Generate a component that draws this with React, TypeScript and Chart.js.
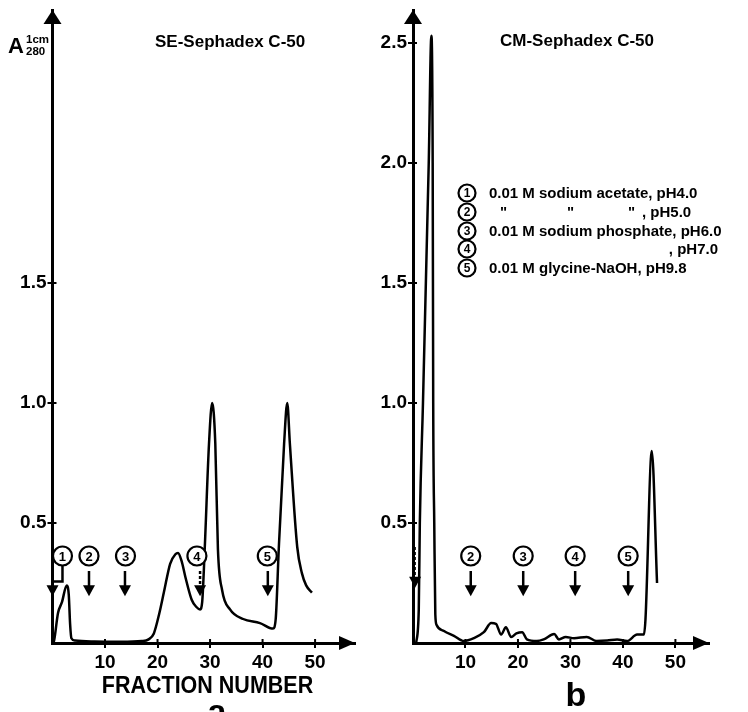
import React, { useEffect, useRef } from "react";
import { Chart, registerables } from "chart.js";

Chart.register(...registerables);

const FONT = "'Liberation Sans', Arial, sans-serif";

// ---------- data ----------
const xTicks = [10, 20, 30, 40, 50];
const yTicksA = [0.5, 1.0, 1.5];
const yTicksB = [0.5, 1.0, 1.5, 2.0, 2.5];

const fractionA = [0, 0.3, 1.05, 1.8, 2.7, 3.1, 3.35, 3.6, 4.3, 8, 13, 17, 18.3, 19.3, 20.3, 21.2, 22.4, 23.4, 23.9, 24.6, 25.3, 26.5, 27.4, 28.1, 28.5, 29.0, 29.8, 30.4, 31.0, 31.5, 32.3, 33.8, 36.3, 39.5, 42.0, 42.5, 43.1, 44.1, 44.7, 45.2, 46.6, 47.5, 48.3, 49.4];
const absorbanceA = [0, 0.01, 0.125, 0.17, 0.24, 0.2, 0.08, 0.02, 0.01, 0.006, 0.005, 0.008, 0.015, 0.04, 0.12, 0.21, 0.33, 0.37, 0.375, 0.34, 0.275, 0.18, 0.15, 0.14, 0.17, 0.4, 0.83, 1.0, 0.83, 0.39, 0.22, 0.14, 0.1, 0.083, 0.06, 0.1, 0.4, 0.83, 1.0, 0.83, 0.4, 0.29, 0.24, 0.21];

const fractionB = [0.6, 1.1, 1.3, 1.9, 3.0, 3.5, 3.75, 3.85, 4.05, 4.25, 4.5, 5.9, 7.8, 9.7, 11.6, 13.5, 14.9, 15.8, 16.8, 17.7, 18.7, 19.7, 20.8, 21.7, 23.6, 24.9, 26.9, 27.8, 29.1, 30.7, 33.1, 35.0, 37.0, 38.9, 40.8, 42.7, 44.0, 44.3, 45.5, 46.5];
const absorbanceB = [0, 0.14, 0.5, 1.0, 2.0, 2.53, 2.0, 1.0, 0.5, 0.12, 0.075, 0.05, 0.03, 0.008, 0.02, 0.045, 0.083, 0.08, 0.035, 0.066, 0.025, 0.04, 0.045, 0.015, 0.008, 0.015, 0.037, 0.015, 0.025, 0.02, 0.025, 0.008, 0.01, 0.015, 0.008, 0.035, 0.035, 0.1, 0.8, 0.25];

// buffer-change markers
const stepLabelsA = ["1", "2", "3", "4", "5"];
const circleFractionA = [1.9, 6.95, 13.9, 27.5, 40.9];
const arrowFractionA = [0, 6.95, 13.8, 28.1, 41.0];
const stepLabelsB = ["2", "3", "4", "5"];
const circleFractionB = [11.0, 21.0, 30.9, 41.0];
const arrowFractionB = [11.0, 21.0, 30.9, 41.0];
const circleLevel = 0.3625;
const arrowTopLevel = 0.3;
const arrowTipLevel = 0.195;

const legendNumbers = ["1", "2", "3", "4", "5"];
const legendTexts = [
  "0.01 M sodium acetate, pH4.0",
  ", pH5.0",
  "0.01 M sodium phosphate, pH6.0",
  ", pH7.0",
  "0.01 M glycine-NaOH, pH9.8",
];

// ---------- drawing helpers ----------
function circled(ctx: CanvasRenderingContext2D, x: number, y: number, label: string, r: number, size: number) {
  ctx.save();
  ctx.fillStyle = "#fff";
  ctx.strokeStyle = "#000";
  ctx.lineWidth = 2.2;
  ctx.beginPath();
  ctx.arc(x, y, r, 0, Math.PI * 2);
  ctx.fill();
  ctx.stroke();
  ctx.fillStyle = "#000";
  ctx.font = `bold ${size}px ${FONT}`;
  ctx.textAlign = "center";
  ctx.textBaseline = "middle";
  ctx.fillText(label, x, y + 1);
  ctx.restore();
}

function arrowDown(ctx: CanvasRenderingContext2D, x: number, yTop: number, yTip: number, dashed = false, lw = 2.5) {
  ctx.save();
  ctx.strokeStyle = "#000";
  ctx.fillStyle = "#000";
  ctx.lineWidth = lw;
  if (dashed) ctx.setLineDash([3, 2]);
  ctx.beginPath();
  ctx.moveTo(x, yTop);
  ctx.lineTo(x, yTip - 8);
  ctx.stroke();
  ctx.setLineDash([]);
  ctx.beginPath();
  ctx.moveTo(x - 6, yTip - 11);
  ctx.lineTo(x + 6, yTip - 11);
  ctx.lineTo(x, yTip);
  ctx.closePath();
  ctx.fill();
  ctx.restore();
}

function text(ctx: CanvasRenderingContext2D, s: string, x: number, y: number, size: number, align: CanvasTextAlign = "left", base: CanvasTextBaseline = "alphabetic", sy = 1) {
  ctx.save();
  ctx.fillStyle = "#000";
  ctx.font = `bold ${size}px ${FONT}`;
  ctx.textAlign = align;
  ctx.textBaseline = base;
  ctx.translate(x, y);
  ctx.scale(1, sy);
  ctx.fillText(s, 0, 0);
  ctx.restore();
}

function overlay(panel: "a" | "b") {
  return {
    id: "overlay_" + panel,
    afterDraw(chart: any) {
      const ctx: CanvasRenderingContext2D = chart.ctx;
      const area = chart.chartArea;
      const xs = chart.scales.x;
      const ys = chart.scales.y;
      const X = (v: number) => xs.getPixelForValue(v);
      const Y = (v: number) => ys.getPixelForValue(v);
      const x0 = X(0);
      const y0 = Y(0);
      ctx.save();
      ctx.fillStyle = "#000";
      ctx.strokeStyle = "#000";
      // axis arrow heads
      ctx.beginPath();
      ctx.moveTo(x0, area.top);
      ctx.lineTo(x0 - 9, area.top + 14);
      ctx.lineTo(x0 + 9, area.top + 14);
      ctx.closePath();
      ctx.fill();
      ctx.beginPath();
      ctx.moveTo(area.right, y0);
      ctx.lineTo(area.right - 16, y0 - 7);
      ctx.lineTo(area.right - 16, y0 + 7);
      ctx.closePath();
      ctx.fill();
      // inner halves of the cross ticks
      ctx.lineWidth = 2;
      const yt = panel === "a" ? yTicksA : yTicksB;
      yt.forEach((v) => {
        ctx.beginPath();
        ctx.moveTo(x0, Y(v));
        ctx.lineTo(x0 + 4, Y(v));
        ctx.stroke();
      });
      xTicks.forEach((v) => {
        ctx.beginPath();
        ctx.moveTo(X(v), y0);
        ctx.lineTo(X(v), y0 - 4);
        ctx.stroke();
      });
      ctx.restore();

      const cy = Y(circleLevel);
      const aTop = Y(arrowTopLevel);
      const aTip = Y(arrowTipLevel);

      if (panel === "a") {
        text(ctx, "SE-Sephadex C-50", 155, 47, 17);
        text(ctx, "A", 8, 53, 22);
        text(ctx, "1cm", 26, 43, 11.5);
        text(ctx, "280", 26, 55, 11.5);
        // step 1: bent arrow to the axis
        ctx.save();
        ctx.strokeStyle = "#000";
        ctx.lineWidth = 2.5;
        const xc = X(circleFractionA[0]);
        const yBend = Y(0.256);
        ctx.beginPath();
        ctx.moveTo(xc, cy + 9);
        ctx.lineTo(xc, yBend);
        ctx.lineTo(X(arrowFractionA[0]), yBend);
        ctx.stroke();
        ctx.restore();
        arrowDown(ctx, X(arrowFractionA[0]), yBend, aTip);
        for (let i = 1; i < stepLabelsA.length; i++) {
          arrowDown(ctx, X(arrowFractionA[i]), aTop, aTip, i === 3);
        }
        stepLabelsA.forEach((l, i) => circled(ctx, X(circleFractionA[i]), cy, l, 9.5, 13));
        text(ctx, "FRACTION NUMBER", 207.5, 693, 21.5, "center", "alphabetic", 1.12);
        text(ctx, "a", 217, 723, 34, "center");
      } else {
        text(ctx, "CM-Sephadex C-50", 126, 46, 17);
        // step 1 arrow hidden against the axis
        arrowDown(ctx, X(0.4), Y(0.4), Y(0.23), true, 1.5);
        stepLabelsB.forEach((l, i) => {
          arrowDown(ctx, X(arrowFractionB[i]), aTop, aTip);
          circled(ctx, X(circleFractionB[i]), cy, l, 9.5, 13);
        });
        // legend
        const ly = [193, 212, 231, 249, 268];
        legendNumbers.forEach((n, i) => {
          circled(ctx, 93, ly[i], n, 8.5, 12);
          const t = legendTexts[i];
          if (i === 1) {
            text(ctx, '"', 126, ly[i] + 5, 15);
            text(ctx, '"', 193, ly[i] + 5, 15);
            text(ctx, '"', 254, ly[i] + 5, 15);
            text(ctx, t, 268, ly[i] + 5, 15);
          } else if (i === 3) {
            text(ctx, t, 344, ly[i] + 5, 15, "right");
          } else {
            text(ctx, t, 115, ly[i] + 5, 15);
          }
        });
        text(ctx, "b", 202, 706, 34, "center");
      }
    },
  };
}

function buildConfig(panel: "a" | "b"): any {
  const fr = panel === "a" ? fractionA : fractionB;
  const ab = panel === "a" ? absorbanceA : absorbanceB;
  const yt = panel === "a" ? yTicksA : yTicksB;
  const yWidth = panel === "a" ? 52.5 : 39;
  const padRight = panel === "a" ? 19 : 39;
  const xMax = panel === "a" ? 57.6 : 56.4;
  const zeroPad = (s: any) => {
    s.paddingLeft = 0;
    s.paddingRight = 0;
    s.paddingTop = 0;
    s.paddingBottom = 0;
  };
  return {
    type: "scatter",
    data: {
      datasets: [
        {
          data: fr.map((x, i) => ({ x, y: ab[i] })),
          showLine: true,
          borderColor: "#000",
          borderWidth: 2.5,
          pointRadius: 0,
          cubicInterpolationMode: "monotone",
          fill: false,
        },
      ],
    },
    options: {
      animation: false,
      responsive: false,
      devicePixelRatio: 1,
      layout: { padding: { left: 0, right: padRight, top: 10, bottom: 0 } },
      plugins: { legend: { display: false }, tooltip: { enabled: false }, title: { display: false } },
      scales: {
        x: {
          type: "linear",
          min: 0,
          max: xMax,
          afterBuildTicks: (s: any) => {
            s.ticks = xTicks.map((v) => ({ value: v }));
          },
          afterFit: (s: any) => {
            s.height = 69;
            zeroPad(s);
          },
          grid: { display: true, drawOnChartArea: false, drawTicks: true, tickLength: 5, color: "#000", lineWidth: 2 },
          border: { display: true, color: "#000", width: 3 },
          ticks: {
            color: "#000",
            font: { family: FONT, weight: "bold", size: 19 },
            padding: 3,
            maxRotation: 0,
            autoSkip: false,
            callback: (v: any) => String(v),
          },
        },
        y: {
          type: "linear",
          min: 0,
          max: 2.6375,
          afterBuildTicks: (s: any) => {
            s.ticks = yt.map((v) => ({ value: v }));
          },
          afterFit: (s: any) => {
            s.width = yWidth;
            zeroPad(s);
          },
          grid: { display: true, drawOnChartArea: false, drawTicks: true, tickLength: 5, color: "#000", lineWidth: 2 },
          border: { display: true, color: "#000", width: 3 },
          ticks: {
            color: "#000",
            font: { family: FONT, weight: "bold", size: 19 },
            padding: 1,
            autoSkip: false,
            callback: (v: any) => Number(v).toFixed(1),
          },
        },
      },
    },
    plugins: [overlay(panel)],
  };
}

function Panel({ which, left }: { which: "a" | "b"; left: number }) {
  const ref = useRef<HTMLCanvasElement>(null);
  useEffect(() => {
    const chart = new Chart(ref.current as HTMLCanvasElement, buildConfig(which));
    return () => chart.destroy();
  }, [which]);
  return (
    <canvas
      ref={ref}
      width={374}
      height={712}
      style={{ position: "absolute", left, top: 0, width: 374, height: 712 }}
    />
  );
}

export default function App() {
  return (
    <div style={{ position: "fixed", left: 0, top: 0, width: 748, height: 712, background: "#fff", overflow: "hidden" }}>
      <Panel which="a" left={0} />
      <Panel which="b" left={374} />
    </div>
  );
}
